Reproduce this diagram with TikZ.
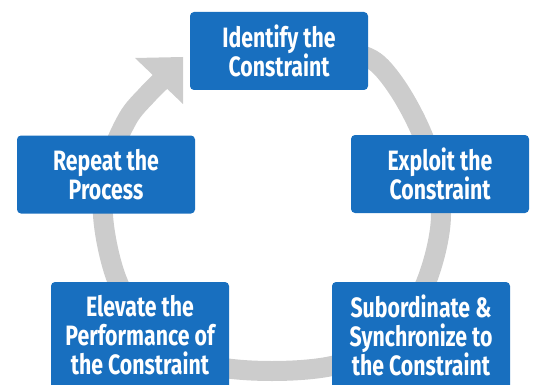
\documentclass[tikz,border=0pt]{standalone}
\usepackage{fontspec}
\newfontfamily\boxfont{Fira Sans}[FakeStretch=0.76]
\definecolor{boxblue}{RGB}{24,111,191}
\definecolor{ringgray}{RGB}{204,204,204}
\begin{document}
\begin{tikzpicture}[x=1pt,y=-1pt,
  stepbox/.style={fill=boxblue, rounded corners=4pt, text=white, align=center,
    minimum width=178pt, minimum height=78pt, inner sep=0pt,
    font=\boxfont\bfseries\fontsize{28}{29}\selectfont},
  tallbox/.style={stepbox, minimum height=107pt},
  ring/.style={draw=ringgray, line width=20pt}]
\useasboundingbox (0,0) rectangle (535,385);
% ring
\draw[ring] plot[smooth, tension=0.55] coordinates {(230,42) (300,42) (350,52) (378,64) (405,100) (428,150) (441,215) (427,280) (395,335) (340,364) (272,371) (205,364) (150,335) (117,280) (103,215) (110,160) (128,118) (147,95) (162,80)};
\fill[ringgray] (135,58) -- (183,57) -- (183,104) -- cycle;
% boxes
\node[stepbox] (identify) at (279,51) {Identify the\\Constraint};
\node[stepbox] (exploit) at (440,174) {Exploit the\\Constraint};
\node[stepbox] (repeat) at (106,174.5) {Repeat the\\Process};
\node[tallbox] (elevate) at (140,335.5) {Elevate the\\Performance of\\the Constraint};
\node[tallbox] (subord) at (421,335.5) {Subordinate \&\\Synchronize to\\the Constraint};
\end{tikzpicture}
\end{document}
